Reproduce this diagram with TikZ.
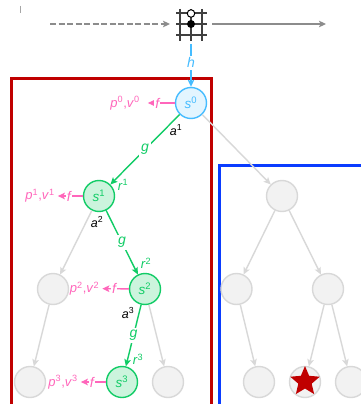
\documentclass[tikz,border=0pt]{standalone}
\usepackage{fontspec}
\setmainfont{Liberation Sans}
\usetikzlibrary{arrows.meta,shapes.geometric}
\definecolor{cblue}{HTML}{45BCFF}
\definecolor{cbluef}{HTML}{E3F5FF}
\definecolor{cgreen}{HTML}{11CC66}
\definecolor{cgreenf}{HTML}{CCF4DD}
\definecolor{cpink}{HTML}{FF66BB}
\definecolor{cgrey}{HTML}{D8D8D8}
\definecolor{cgreyf}{HTML}{F2F2F2}
\definecolor{cred}{HTML}{C00000}
\definecolor{cbox}{HTML}{0A3CFF}
\definecolor{carrow}{HTML}{8C8C8C}
\newcommand{\sym}[2]{\textit{#1}\textsuperscript{#2}}
\newcommand{\pv}[1]{\textit{p}\textsuperscript{#1}\kern.2pt,\textit{v}\textsuperscript{#1}}
\tikzset{
  x=1pt,y=-1pt,
  state/.style={circle,draw,line width=1.4pt,minimum size=31pt,inner sep=0pt,font=\fontsize{13.5}{15}\selectfont},
  rootstate/.style={state,draw=cblue,fill=cbluef,text=cblue},
  greenstate/.style={state,draw=cgreen,fill=cgreenf,text=cgreen},
  greystate/.style={state,draw=cgrey,fill=cgreyf},
  tipg/.style={-{Stealth[length=7pt,width=6.5pt,inset=1.5pt]}},
  greyedge/.style={tipg,draw=cgrey,line width=1.4pt},
  greenedge/.style={tipg,draw=cgreen,line width=1.4pt},
  fedge/.style={tipg,draw=cpink,line width=1.4pt,shorten >=3pt},
  onedge/.style={fill=white,inner sep=2pt,font=\fontsize{14}{16}\itshape\selectfont},
  glabel/.style={onedge,text=cgreen},
  flabel/.style={onedge,text=cpink,inner sep=1pt},
  hlabel/.style={onedge,text=cblue},
  pvlabel/.style={text=cpink,inner sep=0pt,font=\fontsize{13}{15}\selectfont},
  rlabel/.style={text=cgreen,inner sep=0pt,font=\fontsize{13}{15}\selectfont},
  alabel/.style={text=black,inner sep=0pt,font=\fontsize{12.5}{15}\selectfont},
  gridline/.style={draw=black!75,line width=1.2pt},
  flow/.style={tipg,draw=carrow,line width=1.5pt},
}
\begin{document}
\begin{tikzpicture}
\clip (0,0) rectangle (361,404);
\fill[white] (0,0) rectangle (361,404);
\draw[black!35,line width=.5pt] (20.5,6) -- (20.5,13);
% frames
\draw[cred,line width=3pt] (11,410) -- (11,78) -- (211,78) -- (211,410);
\draw[cbox,line width=3pt] (219,410) -- (219,165) -- (370,165);
% board
\foreach \x in {180,191,202} \draw[gridline] (\x,9) -- (\x,41);
\foreach \y in {13,24,35} \draw[gridline] (176,\y) -- (207,\y);
\node[circle,draw=black,fill=white,line width=1pt,minimum size=7.5pt,inner sep=0pt] (white) at (191,13.5) {};
\node[circle,fill=black,minimum size=8pt,inner sep=0pt] (black) at (191,24) {};
\coordinate (inL) at (50,24);
\coordinate (inR) at (170,24);
\coordinate (outL) at (212,24);
\coordinate (outR) at (326,24);
\coordinate (boardB) at (191,44);
\draw[flow,dash pattern=on 6pt off 2.5pt] (inL) -- (inR);
\draw[flow] (outL) -- (outR);
% states
\node[rootstate] (s0) at (191,103) {\sym{s}{0}};
\node[greenstate] (s1) at (99,196) {\sym{s}{1}};
\node[greenstate] (s2) at (145,289) {\sym{s}{2}};
\node[greenstate] (s3) at (122,382) {\sym{s}{3}};
\node[greystate] (l2) at (53,289) {};
\node[greystate] (l3) at (30,382) {};
\node[greystate] (m3) at (168,382) {};
\node[greystate] (t) at (282,196) {};
\node[greystate] (u) at (236.5,289) {};
\node[greystate] (v) at (328,289) {};
\node[greystate] (w) at (259,382) {};
\node[greystate] (x) at (305,382) {};
\node[greystate] (y) at (351,382) {};
\node[star,star points=5,star point ratio=2.2,fill=cred,minimum size=31pt,inner sep=0pt] (goal) at (305,381.5) {};
% representation
\draw[tipg,draw=cblue,line width=1.4pt] (boardB) -- node[hlabel,pos=.44] {h} (s0);
% grey edges
\draw[greyedge] (s0) -- (t);
\draw[greyedge] (t) -- (u);
\draw[greyedge] (t) -- (v);
\draw[greyedge] (u) -- (w);
\draw[greyedge] (v) -- (x);
\draw[greyedge] (v) -- (y);
\draw[greyedge] (s1) -- (l2);
\draw[greyedge] (l2) -- (l3);
\draw[greyedge] (s2) -- (m3);
% green edges
\draw[greenedge] (s0) -- node[glabel] {g} (s1);
\draw[greenedge] (s1) -- node[glabel] {g} (s2);
\draw[greenedge] (s2) -- node[glabel] {g} (s3);
% predictions
\node[pvlabel] (p0) at (125,103) {\pv{0}};
\node[pvlabel] (p1) at (40,196) {\pv{1}};
\node[pvlabel] (p2) at (84.5,288.5) {\pv{2}};
\node[pvlabel] (p3) at (63,382) {\pv{3}};
\draw[fedge,shorten >=8pt] (s0) -- node[flabel] {f} (p0);
\draw[fedge] (s1) -- node[flabel] {f} (p1);
\draw[fedge] (s2) -- node[flabel] {f} (p2);
\draw[fedge] (s3) -- node[flabel] {f} (p3);
% action and reward labels
\node[alabel] (a1) at (176,130) {\sym{a}{1}};
\node[alabel] (a2) at (97,222) {\sym{a}{2}};
\node[alabel] (a3) at (128,313) {\sym{a}{3}};
\node[rlabel] (r1) at (123,185) {\sym{r}{1}};
\node[rlabel] (r2) at (146,263) {\sym{r}{2}};
\node[rlabel] (r3) at (138,359) {\sym{r}{3}};
\end{tikzpicture}
\end{document}
